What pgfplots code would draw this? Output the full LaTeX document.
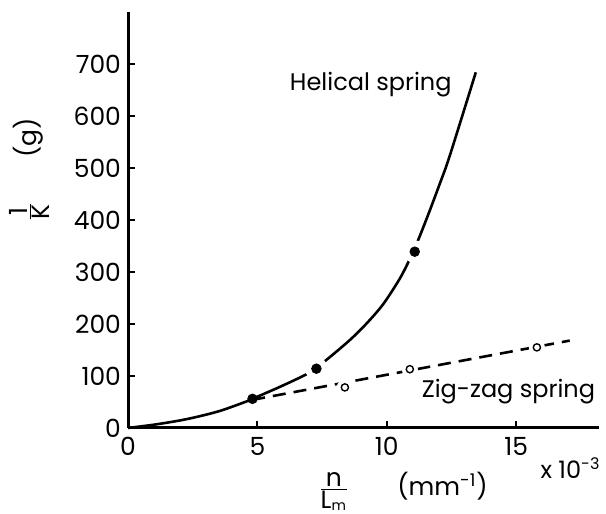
\documentclass[border=0pt]{standalone}
\usepackage{fontspec}
\setmainfont{Poppins}
\usepackage{pgfplots}
\pgfplotsset{compat=1.18}

\begin{document}
\begin{tikzpicture}
\begin{axis}[
  scale only axis,
  width=235.5pt, height=208pt,
  xmin=0, xmax=18.2, ymin=0, ymax=800,
  axis x line*=bottom, axis y line*=left,
  axis line style={-, line width=1.5pt},
  xtick={0,5,10,15}, ytick={0,100,...,700},
  tick align=inside, major tick length=3.5pt,
  tick style={line width=1pt, black},
  tick label style={font=\fontsize{12.5}{14}\selectfont},
  /pgf/number format/assume math mode=true,
  xticklabel style={yshift=-1pt},
  label style={font=\fontsize{12.5}{14}\selectfont},
  ylabel={$\frac{\mbox{1}}{\mbox{K}}$\hspace{22pt}(g)},
  ylabel style={at={(rel axis cs:-0.21,0.62)}, anchor=center},
  xlabel={$\frac{\mbox{n}}{\mbox{L}_{\mbox{\scriptsize m}}}$\hspace{24pt}(mm\textsuperscript{-1})},
  xlabel style={at={(rel axis cs:0.584,-0.152)}, anchor=center},
  clip=false,
]
% helical spring (solid curve)
\addplot[black, line width=1.3pt, smooth] coordinates {
  (0,0) (1.1,7) (2.27,17) (3.5,32) (4.58,51) (4.81,56) (6.0,82) (7.03,107)
  (7.67,131) (8.57,169) (9.22,201) (9.86,238) (10.5,287) (10.89,325)
  (11.25,366) (11.66,418) (12.05,470) (12.43,523) (13.44,684)
};
% zig-zag spring (dashed line)
\addplot[black, line width=1.3pt, dash pattern=on 6.5pt off 4pt] coordinates {
  (4.8,54) (17.07,168)
};
% white gaps round the points
\addplot[only marks, mark=*, mark size=5.5pt, white, mark options={draw=white, fill=white}] coordinates {
  (7.28,114) (11.08,339)
};
\addplot[only marks, mark=*, mark size=3.8pt, white, mark options={draw=white, fill=white}] coordinates {
  (8.38,78) (10.89,113) (15.8,155)
};
% helical data points
\addplot[only marks, mark=*, mark size=2.4pt, black] coordinates {
  (4.81,56) (7.28,114) (11.08,339)
};
% zig-zag data points
\addplot[only marks, mark=o, mark size=1.8pt, black, mark options={line width=0.7pt}] coordinates {
  (8.38,78) (10.89,113) (15.8,155)
};
\node[font=\fontsize{12}{14}\selectfont] at (axis cs:9.38,660) {Helical spring};
\node[font=\fontsize{12}{14}\selectfont] at (axis cs:14.7,69) {Zig-zag spring};
\node[font=\fontsize{12}{14}\selectfont] at (axis cs:17.1,-77) {x 10\textsuperscript{-3}};
\coordinate (bl) at (rel axis cs:-0.2718,-0.2067);
\coordinate (tr) at (rel axis cs:1.0149,1.0288);
\end{axis}
\pgfresetboundingbox
\useasboundingbox (bl) rectangle (tr);
\end{tikzpicture}
\end{document}
